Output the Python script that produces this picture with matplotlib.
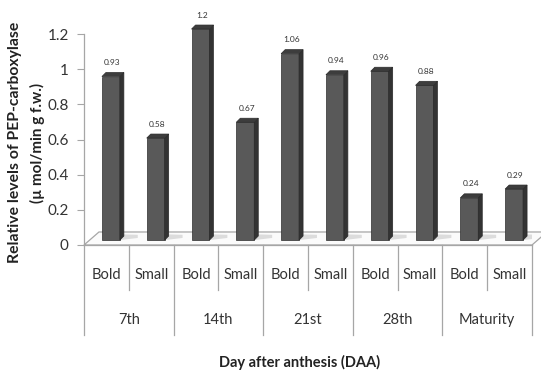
import matplotlib.pyplot as plt
import numpy as np
from matplotlib.patches import Polygon

plt.rcParams["font.family"] = ["Lato", "DejaVu Sans"]

stages = ["7th", "14th", "21st", "28th", "Maturity"]
grain_types = ["Bold", "Small"]
values = [0.93, 0.58, 1.2, 0.67, 1.06, 0.94, 0.96, 0.88, 0.24, 0.29]
value_labels = ["0.93", "0.58", "1.2", "0.67", "1.06", "0.94", "0.96", "0.88", "0.24", "0.29"]
yticks = [0, 0.2, 0.4, 0.6, 0.8, 1.0, 1.2]
ytick_labels = ["0", "0.2", "0.4", "0.6", "0.8", "1", "1.2"]

FRONT = "#595959"
SIDE = "#333333"
TOP = "#3d3d3d"
LINE = "#a6a6a6"

fig = plt.figure(figsize=(5.41, 3.71), dpi=100)
ax = fig.add_axes([84 / 541, (371 - 245) / 371, (532 - 84) / 541, (245 - 34) / 371])
n = len(values)
ax.set_xlim(0, n)
ax.set_ylim(0, 1.2)

# 3D floor
dx, dy = 0.334, 0.074
floor = Polygon([(0, 0), (n, 0), (n + dx, dy), (dx, dy)], closed=True,
                facecolor="#fbfbfb", edgecolor=LINE, lw=0.9, clip_on=False, zorder=1)
ax.add_patch(floor)

# bars: front face + side + top
base = 0.028
sx, sy = 0.09, 0.023
x = np.arange(n) + 0.6
w = 0.4
for xi, v in zip(x, values):
    # soft shadow on the floor
    ax.add_patch(Polygon([(xi + w / 2, base), (xi + w / 2 + 0.4, base + 0.012),
                          (xi + w / 2 + 0.4, base + 0.03), (xi + w / 2, base + sy + 0.01)],
                         closed=True, facecolor="#dcdcdc", edgecolor="none", zorder=1.5))
ax.bar(x, values, width=w, bottom=base, color=FRONT, edgecolor="#2e2e2e", lw=0.5,
       zorder=3, clip_on=False)
for xi, v in zip(x, values):
    r = xi + w / 2
    l = xi - w / 2
    top = base + v
    ax.add_patch(Polygon([(r, base), (r + sx, base + sy), (r + sx, top + sy), (r, top)],
                         closed=True, facecolor=SIDE, edgecolor="#2a2a2a", lw=0.5,
                         zorder=3, clip_on=False))
    ax.add_patch(Polygon([(l, top), (r, top), (r + sx, top + sy), (l + sx, top + sy)],
                         closed=True, facecolor=TOP, edgecolor="#2a2a2a", lw=0.5,
                         zorder=3, clip_on=False))

for xi, v, lab in zip(x, values, value_labels):
    ax.text(xi + 0.03, base + v + 0.08, lab, ha="center", va="center",
            fontsize=6, color="#333333", clip_on=False)

# axes styling
for s in ["top", "right", "bottom"]:
    ax.spines[s].set_visible(False)
ax.spines["left"].set_color(LINE)
ax.spines["left"].set_linewidth(0.9)
ax.set_yticks(yticks)
ax.set_yticklabels(ytick_labels, fontsize=11, color="#333333")
ax.tick_params(axis="y", length=5, color=LINE, pad=6)
ax.set_xticks([])

# category axis
ax.plot([0, n], [0, 0], color=LINE, lw=0.9, clip_on=False)
for i in range(n + 1):
    low = -0.511 if i % 2 == 0 else -0.256
    ax.plot([i, i], [0, low], color=LINE, lw=0.9, clip_on=False)
for i in range(n):
    ax.text(i + 0.5, -0.17, grain_types[i % 2], ha="center", va="center",
            fontsize=10.5, color="#333333", clip_on=False)
for j, st in enumerate(stages):
    ax.text(2 * j + 1, -0.426, st, ha="center", va="center",
            fontsize=10.5, color="#333333", clip_on=False)

fig.text(300 / 541, 1 - 362 / 371, "Day after anthesis (DAA)", ha="center", va="center",
         fontsize=10.5, fontweight="bold", color="#222222")
fig.text(15 / 541, 1 - 142 / 371, "Relative levels of PEP-carboxylase", rotation=90,
         ha="center", va="center", fontsize=11.3, fontweight="bold", color="#222222")
fig.text(37 / 541, 1 - 143 / 371, "(\u00b5 mol/min g f.w.)", rotation=90,
         ha="center", va="center", fontsize=11, fontweight="bold", color="#222222")

fig.savefig("out.png", dpi=100)
